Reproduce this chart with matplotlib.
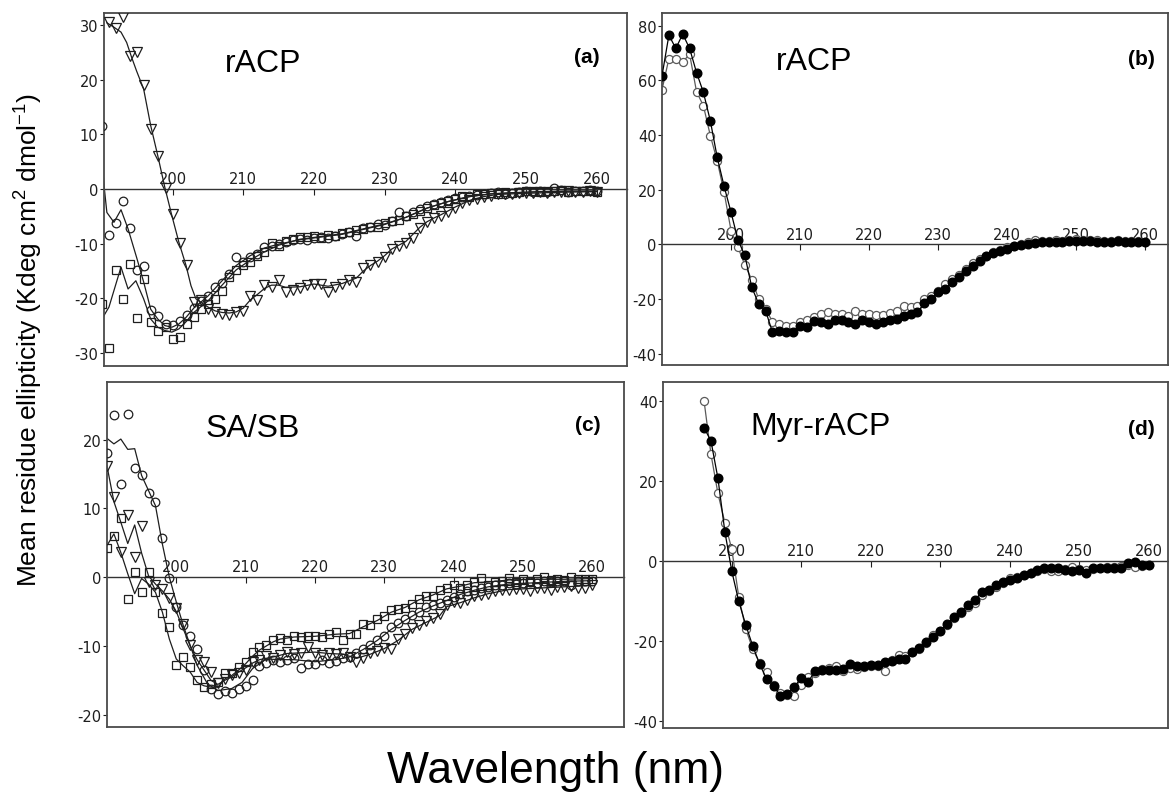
import matplotlib
matplotlib.use('Agg')
import matplotlib.pyplot as plt
import numpy as np

plt.rcParams['font.family'] = ['DejaVu Sans']
plt.rcParams['axes.unicode_minus'] = False
plt.rcParams['mathtext.fontset'] = 'custom'
plt.rcParams['mathtext.rm'] = 'Liberation Sans'
plt.rcParams['mathtext.it'] = 'Liberation Sans:italic'

NM = np.arange(190, 261)
XTICKS = [200, 210, 220, 230, 240, 250, 260]

# ---- panel (a): rACP, three conditions ----
a_tri_nm = np.arange(191, 261)
a_tri = [30.6, 29.4, 31.4, 24.3, 25.0, 19.0, 10.9, 6.1, 0.1, -4.6,
         -9.8, -14.0, -20.7, -20.4, -22.0, -22.6, -22.9, -23.0, -22.6, -22.3,
         -19.5, -20.3, -17.6, -18.0, -16.6, -18.8, -18.5, -18.2, -17.6, -17.3,
         -17.3, -18.8, -17.9, -17.4, -16.6, -17.1, -14.5, -13.9, -13.3, -12.4,
         -10.9, -10.4, -9.9, -9.0, -7.2, -6.0, -5.4, -4.9, -4.3, -3.5,
         -2.6, -2.0, -1.8, -1.5, -1.2, -1.0, -1.0, -0.9, -0.8, -0.7,
         -0.8, -0.6, -0.7, -0.5, -0.6, -0.4, -0.5, -0.5, -0.4, -0.5]
a_cir = [11.6, -8.5, -6.3, -2.2, -7.1, -14.9, -14.1, -22.2, -23.2, -24.7,
         -24.9, -24.2, -23.0, -21.8, -20.5, -19.6, -18.0, -17.2, -15.5, -12.4,
         -13.3, -12.4, -11.9, -10.6, -10.4, -10.0, -9.7, -9.3, -9.2, -9.3,
         -8.9, -8.7, -9.0, -8.6, -8.2, -7.9, -8.6, -7.2, -6.9, -6.5,
         -6.6, -5.9, -4.3, -5.0, -4.2, -3.6, -3.2, -2.8, -2.4, -2.0,
         -1.7, -1.5, -1.3, -1.1, -0.9, -0.8, -0.6, -1.0, -0.7, -0.6,
         -0.4, -0.5, -0.3, -0.5, 0.2, -0.2, -0.6, -0.3, -0.4, -0.2, -0.4]
a_sqr = [-21.0, -29.1, -14.8, -20.2, -13.8, -23.7, -16.5, -24.3, -25.9, -25.3,
         -27.4, -27.1, -24.7, -23.5, -22.0, -21.0, -20.1, -18.6, -16.2, -14.9,
         -14.0, -13.4, -12.2, -11.6, -9.8, -10.4, -9.6, -9.1, -8.7, -8.8,
         -8.6, -8.9, -8.5, -8.6, -8.0, -7.9, -7.6, -7.3, -7.0, -6.9,
         -6.2, -5.9, -5.6, -5.0, -4.5, -4.0, -3.4, -3.0, -2.5, -2.2,
         -1.8, -1.2, -1.4, -0.9, -1.0, -0.7, -0.9, -0.6, -0.8, -0.5,
         -0.4, -0.3, -0.6, -0.4, -0.3, -0.2, -0.5, -0.3, -0.4, -0.3, -0.5]
# smoothed traces drawn as lines
a_tri_line_nm = [190.7, 191.7, 192.7, 193.5, 194.2, 194.9, 195.9, 196.9, 197.9, 198.9,
                 199.9, 200.9, 201.9, 202.6, 203.3, 204.3, 205, 206, 207, 208,
                 209, 210, 211, 212, 213, 214, 215, 216, 218, 220,
                 222, 224, 226, 227, 228, 229, 230, 231, 232, 233,
                 234, 235, 236, 237, 238, 239, 240, 242, 244, 246,
                 250, 255, 260]
a_tri_line = [30.4, 29.6, 28.7, 26.8, 24.1, 21.6, 18.3, 11.6, 6.1, 0.3,
              -4.9, -9.8, -14.0, -17.7, -20.1, -21.0, -21.6, -22.3, -22.6, -22.7,
              -22.5, -21.8, -20.3, -19.3, -18.2, -17.6, -17.6, -18.0, -17.9, -17.4,
              -17.8, -17.3, -16.3, -15.0, -14.0, -13.2, -12.2, -11.0, -10.3, -9.6,
              -8.3, -7.0, -6.0, -5.3, -4.7, -4.0, -3.3, -2.1, -1.4, -1.0,
              -0.8, -0.6, -0.5]
a_cir_line_nm = [190, 190.3, 190.7, 191.7, 192.7, 193.7, 194.9, 195.9, 196.9, 197.9,
                 198.9, 199.9, 200.9, 201.9, 203, 205, 207, 209, 211, 213,
                 215, 218, 221, 224, 227, 230, 233, 236, 239, 242,
                 245, 248, 252, 256, 260]
a_cir_line = [5.8, 0.6, -4.3, -6.1, -3.8, -7.3, -12.5, -17.0, -22.0, -23.8,
              -25.0, -25.3, -24.7, -23.5, -21.8, -19.6, -16.8, -14.0, -12.2, -10.8,
              -10.1, -9.3, -8.8, -8.3, -7.4, -6.5, -5.2, -3.5, -2.3, -1.4,
              -0.9, -0.7, -0.5, -0.4, -0.4]
a_sqr_line_nm = [190, 191, 192.7, 193.7, 194.8, 195.9, 196.9, 197.9, 198.9, 199.9,
                 200.9, 201.9, 203, 205, 207, 209, 211, 213, 215, 218,
                 221, 224, 227, 230, 233, 236, 239, 242, 245, 248,
                 252, 256, 260]
a_sqr_line = [-23.8, -21.6, -14.3, -18.3, -16.8, -20.1, -23.8, -25.3, -25.9, -26.2,
              -25.6, -24.3, -22.6, -20.5, -17.6, -14.8, -13.0, -11.5, -10.3, -9.2,
              -8.7, -8.2, -7.3, -6.4, -5.2, -3.5, -2.3, -1.4, -0.9, -0.7,
              -0.5, -0.4, -0.4]

# ---- panel (b): rACP, two samples ----
b_filled = [61.7, 76.6, 71.7, 77.0, 71.7, 62.9, 55.6, 45.2, 31.8, 21.2,
            11.7, 1.6, -4.1, -15.7, -21.8, -24.3, -32.2, -31.6, -32.0, -32.2,
            -29.8, -30.4, -28.0, -28.4, -29.2, -27.6, -27.6, -28.4, -29.2, -27.6,
            -28.4, -29.2, -28.6, -27.6, -27.4, -26.2, -25.6, -24.9, -21.5, -20.0,
            -17.6, -16.4, -13.9, -12.1, -9.7, -7.8, -6.0, -4.2, -3.2, -2.3,
            -1.7, -0.8, -0.3, 0.1, 0.6, 0.7, 0.8, 0.9, 0.9, 1.1,
            1.2, 1.3, 1.1, 1.0, 1.0, 0.9, 1.1, 1.0, 0.9, 0.9, 0.9]
b_open = [56.6, 68.0, 67.8, 66.8, 69.6, 55.9, 50.7, 39.8, 30.5, 19.0,
          5.0, -1.1, -7.6, -12.9, -20.0, -23.7, -28.3, -29.1, -29.8, -29.8,
          -28.5, -27.9, -26.8, -25.5, -24.9, -25.5, -25.5, -26.2, -24.3, -25.5,
          -25.5, -25.9, -25.9, -25.2, -24.3, -22.7, -23.1, -22.5, -20.0, -18.8,
          -17.0, -14.5, -12.7, -11.2, -9.0, -7.0, -5.4, -4.2, -2.9, -2.0,
          -1.1, -0.5, 0.1, 0.7, 1.7, 1.3, 1.2, 1.4, 1.2, 1.5,
          1.8, 1.6, 1.7, 1.4, 1.3, 1.2, 1.6, 1.3, 1.2, 1.1, 1.0]

# ---- panel (c): SA/SB ----
c_cir = [18.1, 23.6, 13.6, 23.8, 15.9, 14.8, 12.3, 11.0, 5.7, -0.1,
         -4.4, -7.0, -8.6, -10.5, -13.5, -16.3, -17.0, -16.5, -16.9, -16.2,
         -15.8, -14.9, -12.9, -12.5, -12.0, -12.4, -12.0, -11.8, -13.2, -12.7,
         -12.7, -12.0, -12.5, -12.2, -11.7, -11.6, -11.0, -10.4, -9.8, -9.1,
         -8.6, -7.3, -6.6, -6.1, -5.5, -5.0, -4.4, -4.1, -3.7, -3.3,
         -2.9, -2.4, -2.0, -1.9, -1.6, -1.4, -1.2, -1.1, -0.9, -1.0,
         -0.8, -0.7, -0.8, -0.6, -0.7, -0.6, -0.5, -1.1, -0.5, -0.6, -0.5]
c_tri = [16.2, 11.6, 3.6, 9.1, 2.9, 7.5, -0.7, -1.2, -1.7, -3.0,
         -4.5, -6.8, -9.8, -12.0, -12.3, -13.8, -15.4, -14.8, -14.3, -13.9,
         -13.5, -12.4, -12.0, -11.5, -11.8, -11.3, -10.9, -11.2, -11.1, -10.2,
         -11.0, -11.3, -11.1, -11.2, -11.0, -11.6, -12.3, -11.8, -11.0, -10.8,
         -10.3, -10.5, -9.0, -8.3, -7.4, -7.0, -6.4, -5.9, -5.4, -4.0,
         -3.6, -3.7, -3.3, -2.8, -2.6, -2.5, -2.0, -1.9, -1.8, -1.7,
         -1.7, -2.0, -1.5, -1.5, -1.8, -1.4, -1.4, -1.3, -1.5, -1.6, -1.2]
c_sqr = [4.3, 6.0, 8.6, -3.2, 0.8, -2.2, 0.7, -2.2, -5.2, -7.3,
         -12.8, -11.6, -13.1, -15.0, -16.0, -15.5, -15.3, -14.0, -14.0, -13.1,
         -12.3, -10.9, -10.2, -9.9, -9.2, -8.9, -9.2, -8.5, -8.7, -8.5,
         -8.6, -8.7, -8.2, -8.0, -9.2, -8.2, -8.2, -6.8, -6.9, -6.1,
         -5.6, -4.8, -4.6, -4.5, -3.9, -3.1, -2.7, -2.7, -1.9, -1.5,
         -1.2, -1.5, -1.1, -0.7, -0.1, -1.2, -0.7, -0.6, -0.1, -0.7,
         -0.2, -0.5, -0.3, 0.0, -0.4, -0.3, -0.4, 0.0, -0.3, -0.2, -0.2]
c_cir_line_nm = [190, 191, 192, 193, 194, 195, 196, 197, 198, 199, 200, 201,
                 203, 204.5, 206, 208, 209.5, 211, 213, 215, 217, 220,
                 223, 225, 227, 229, 231, 233, 235, 237, 239, 241,
                 243, 245, 248, 252, 256, 260]
c_cir_line = [20.2, 19.4, 20.1, 18.6, 18.7, 14.8, 12.6, 10.4, 4.8, 0.0, -3.6, -7.0,
              -12.8, -15.5, -16.5, -16.2, -15.3, -13.3, -11.9, -12.0, -12.0, -12.3,
              -12.0, -11.6, -10.5, -9.2, -7.6, -6.3, -5.1, -4.2, -3.4, -2.5,
              -1.9, -1.4, -1.0, -0.8, -0.6, -0.5]
c_tri_line_nm = [190, 191, 192, 193, 194, 195, 196, 197, 198, 199,
                 200, 201, 202, 203, 204, 205, 206, 207, 208, 209,
                 210, 211, 212, 214, 216, 218, 220, 222, 224, 226,
                 228, 230, 232, 234, 236, 238, 239, 241, 243, 245,
                 248, 252, 256, 260]
c_tri_line = [16.2, 11.0, 8.0, 4.9, 7.6, 3.5, 0.2, -1.0, -2.0, -3.2,
              -5.0, -7.5, -10.0, -12.0, -13.5, -15.0, -15.6, -15.0, -14.5, -13.8,
              -13.2, -12.5, -12.0, -11.6, -11.1, -11.0, -10.9, -11.1, -11.2, -11.8,
              -11.2, -10.4, -9.2, -7.6, -6.6, -5.6, -4.3, -3.7, -3.0, -2.4,
              -1.8, -1.6, -1.4, -1.2]
c_sqr_line_nm = [190, 191, 192, 193, 194, 195, 196, 197, 198, 199,
                 200, 201, 202, 203, 204, 205, 206, 207, 208, 209,
                 210, 211, 212, 213, 214, 215, 217, 220, 223, 225,
                 227, 229, 231, 233, 235, 237, 239, 241, 243, 245,
                 248, 252, 256, 260]
c_sqr_line = [4.6, 6.3, 3.6, 0.5, -2.4, -0.2, -1.0, -2.2, -5.1, -9.0,
              -11.9, -12.9, -13.8, -15.3, -15.8, -16.0, -16.0, -14.8, -14.3, -13.5,
              -12.6, -11.5, -10.6, -10.0, -9.4, -9.0, -8.7, -8.6, -8.3, -8.2,
              -7.2, -6.3, -5.1, -4.4, -3.3, -2.6, -1.7, -1.3, -0.8, -0.7,
              -0.4, -0.3, -0.3, -0.2]

# ---- panel (d): Myr-rACP ----
d_nm = np.arange(196, 261)
d_filled = [33.4, 30.0, 20.7, 7.3, -2.6, -10.1, -16.0, -21.2, -25.8, -29.5,
            -31.2, -33.7, -33.3, -31.5, -29.2, -30.2, -27.5, -27.4, -27.2, -27.3,
            -27.0, -25.8, -26.4, -26.4, -26.0, -26.0, -25.4, -25.0, -24.5, -24.5,
            -22.9, -21.8, -20.3, -19.1, -17.4, -15.7, -14.0, -12.8, -11.1, -9.8,
            -7.7, -7.3, -6.1, -5.2, -4.8, -4.2, -3.5, -2.9, -2.3, -1.8,
            -1.7, -1.8, -2.3, -2.5, -2.3, -2.9, -1.8, -1.7, -1.7, -1.8,
            -1.7, -0.6, -0.2, -1.0, -1.0]
d_open = [40.1, 26.7, 16.9, 9.6, 2.9, -9.0, -17.0, -22.0, -25.5, -27.9,
          -31.0, -33.0, -33.5, -33.7, -31.0, -29.0, -28.0, -27.0, -26.8, -26.3,
          -27.5, -26.9, -27.0, -26.6, -26.2, -26.3, -27.5, -24.8, -23.6, -23.9,
          -22.7, -22.0, -20.5, -18.6, -17.6, -16.0, -14.3, -13.0, -11.4, -10.4,
          -8.6, -7.6, -6.4, -5.4, -4.3, -4.0, -3.5, -2.9, -2.4, -2.1,
          -2.6, -2.4, -2.0, -1.4, -1.9, -2.2, -2.0, -1.8, -1.5, -1.6,
          -1.2, -1.1, -1.4, -1.2, -0.9]

INK = '#1e1e1e'
GREY = '#5a5a5a'
FRAME = '#4a4a4a'


def setup_panel(ax, xlim, ylim, yticks, title, title_xy, tag, tag_xy):
    ax.set_xlim(*xlim)
    ax.set_ylim(*ylim)
    ax.set_xticks([])
    ax.set_yticks(yticks)
    ax.tick_params(axis='y', direction='out', length=3, width=0.8, pad=1,
                   labelsize=10.5, colors=INK)
    for sp in ax.spines.values():
        sp.set_linewidth(1.3)
        sp.set_color(FRAME)

    # wavelength axis drawn along the zero line, labels above it
    sec = ax.secondary_xaxis(0, transform=ax.transData)
    sec.set_alignment('top')
    sec.set_xticks(XTICKS)
    sec.tick_params(direction='in', length=4, width=0.8, pad=2,
                    labelsize=10.5, colors=INK)
    sec.spines['top'].set_linewidth(1.0)
    sec.spines['top'].set_color('#333333')

    ax.text(*title_xy, title, transform=ax.transAxes, ha='left', va='baseline',
            fontsize=23, family='Liberation Sans', color='black')
    ax.text(*tag_xy, tag, transform=ax.transAxes, ha='right', va='baseline',
            fontsize=15, fontweight='bold', family='Liberation Sans', color='black')


def open_markers(ax, x, y, marker, ms):
    ax.plot(x, y, linestyle='none', marker=marker, ms=ms, mfc='none',
            mec=INK, mew=0.9, zorder=3)


def main():
    fig = plt.figure(figsize=(11.69, 8.04), dpi=100)
    ax_a = fig.add_axes([0.0890, 0.5435, 0.4474, 0.4391])
    ax_b = fig.add_axes([0.5663, 0.5448, 0.4329, 0.4378])
    ax_c = fig.add_axes([0.0915, 0.0945, 0.4423, 0.4291])
    ax_d = fig.add_axes([0.5672, 0.0933, 0.4320, 0.4303])

    # (a)
    for xs, ys in [(a_tri_line_nm, a_tri_line), (a_cir_line_nm, a_cir_line),
                   (a_sqr_line_nm, a_sqr_line)]:
        ax_a.plot(xs, ys, color=INK, lw=0.9, zorder=2)
    open_markers(ax_a, a_tri_nm, a_tri, 'v', 7)
    open_markers(ax_a, NM, a_cir, 'o', 6.2)
    open_markers(ax_a, NM, a_sqr, 's', 6.2)
    setup_panel(ax_a, (190.3, 264.3), (-32.4, 32.2), [-30, -20, -10, 0, 10, 20, 30],
                'rACP', (0.231, 0.837), '(a)', (0.948, 0.86))

    # (b)
    ax_b.plot(NM, b_open, color=GREY, lw=0.9, marker='o', ms=5.8, mfc='white',
              mec=GREY, mew=0.9, zorder=2)
    ax_b.plot(NM, b_filled, color='black', lw=0.9, marker='o', ms=6.2, mfc='black',
              mec='black', zorder=3)
    setup_panel(ax_b, (190.0, 263.3), (-44.2, 84.7), [-40, -20, 0, 20, 40, 60, 80],
                'rACP', (0.225, 0.841), '(b)', (0.974, 0.855))

    # (c)
    for xs, ys in [(c_cir_line_nm, c_cir_line), (c_tri_line_nm, c_tri_line),
                   (c_sqr_line_nm, c_sqr_line)]:
        ax_c.plot(xs, ys, color=INK, lw=0.9, zorder=2)
    open_markers(ax_c, NM, c_cir, 'o', 6.2)
    open_markers(ax_c, NM, c_tri, 'v', 7)
    open_markers(ax_c, NM, c_sqr, 's', 6.2)
    setup_panel(ax_c, (190.0, 264.6), (-21.8, 28.4), [-20, -10, 0, 10, 20],
                'SA/SB', (0.19, 0.844), '(c)', (0.954, 0.86))

    # (d)
    ax_d.plot(d_nm, d_open, color=GREY, lw=0.9, marker='o', ms=5.8, mfc='white',
              mec=GREY, mew=0.9, zorder=2)
    ax_d.plot(d_nm, d_filled, color='black', lw=0.9, marker='o', ms=6.2, mfc='black',
              mec='black', zorder=3)
    setup_panel(ax_d, (190.1, 262.8), (-41.8, 44.8), [-40, -20, 0, 20, 40],
                'Myr-rACP', (0.173, 0.850), '(d)', (0.974, 0.85))

    fig.text(0.025, 0.577, 'Mean residue ellipticity (Kdeg cm$^{2}$ dmol$^{-1}$)',
             rotation=90, ha='center', va='center', fontsize=19, family='Liberation Sans')
    fig.text(0.475, 0.040, 'Wavelength (nm)', ha='center', va='center',
             fontsize=32, family='Liberation Sans')

    fig.savefig('out.png', dpi=100)


if __name__ == '__main__':
    main()
